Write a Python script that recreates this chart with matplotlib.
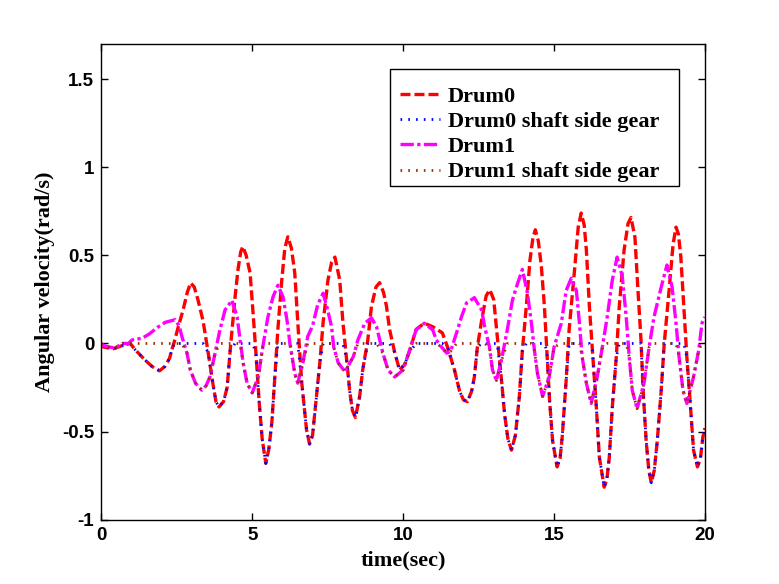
import numpy as np
import matplotlib
matplotlib.use("Agg")
import matplotlib.pyplot as plt
from matplotlib.patches import Rectangle

# values
drum0_time = [0.0, 0.07, 0.4, 0.73, 0.96, 1.12, 1.29, 1.45, 1.68, 1.93, 2.11, 2.26, 2.34, 2.42, 2.56, 2.71, 2.85, 2.96,
              3.08, 3.2, 3.37, 3.54, 3.7, 3.8, 3.9, 4.05, 4.17, 4.27, 4.43, 4.53, 4.62, 4.69,
              4.8, 4.93, 5.03, 5.13, 5.23, 5.33, 5.45,
              5.55, 5.65, 5.75, 5.85, 5.98, 6.08, 6.18,
              6.3, 6.41, 6.51, 6.64, 6.8, 6.9,
              7.0, 7.07, 7.24, 7.35, 7.51, 7.63, 7.74,
              7.9, 8.0, 8.12, 8.23, 8.32, 8.42,
              8.56, 8.66, 8.83, 8.95, 9.1, 9.22,
              9.35, 9.45, 9.55, 9.72, 9.88,
              10.05, 10.2, 10.43, 10.7, 10.98, 11.3, 11.47, 11.7, 11.87, 12.0, 12.13,
              12.27, 12.36, 12.46, 12.6, 12.75, 12.87,
              13.0, 13.12, 13.26, 13.36, 13.47, 13.59,
              13.72, 13.85, 13.95, 14.08, 14.2, 14.3, 14.38,
              14.48, 14.58, 14.68, 14.76, 14.85, 14.95, 15.1,
              15.2, 15.27, 15.4, 15.5, 15.67, 15.8, 15.9,
              16.0, 16.07, 16.17, 16.27, 16.4, 16.5, 16.66,
              16.75, 16.83, 16.93, 17.06, 17.16, 17.32, 17.45, 17.55,
              17.68, 17.78, 17.88, 17.95, 18.05, 18.14, 18.22,
              18.32, 18.42, 18.55, 18.65, 18.81, 18.94, 19.04,
              19.12, 19.2, 19.3, 19.4, 19.52, 19.62, 19.75,
              19.85, 19.93, 20.0]
drum0_vel = [0.0, -0.02, -0.03, -0.01, 0.0, -0.035, -0.065, -0.094, -0.13, -0.155, -0.13, -0.085, -0.035, 0.01, 0.1, 0.19, 0.29, 0.344,
             0.32, 0.25, 0.13, -0.05, -0.23, -0.33, -0.36, -0.33, -0.25, -0.04, 0.26, 0.42, 0.52, 0.55,
             0.5, 0.4, 0.17, -0.07, -0.33, -0.54, -0.68,
             -0.6, -0.45, -0.19, 0.08, 0.36, 0.54, 0.605,
             0.54, 0.40, 0.12, -0.22, -0.49, -0.57,
             -0.52, -0.4, -0.11, 0.12, 0.36, 0.46, 0.49,
             0.36, 0.13, -0.08, -0.27, -0.38, -0.42,
             -0.3, -0.15, 0.02, 0.21, 0.32, 0.345,
             0.29, 0.21, 0.08, -0.05, -0.15,
             -0.12, -0.05, 0.08, 0.115, 0.095, 0.06, -0.02, -0.15, -0.27, -0.32, -0.33,
             -0.27, -0.19, -0.02, 0.13, 0.27, 0.305,
             0.25, 0.04, -0.21, -0.4, -0.54, -0.605,
             -0.52, -0.3, -0.04, 0.21, 0.47, 0.6, 0.645,
             0.58, 0.435, 0.21, -0.04, -0.32, -0.55, -0.70,
             -0.65, -0.53, -0.21, 0.08, 0.40, 0.66, 0.74,
             0.67, 0.53, 0.21, -0.04, -0.36, -0.645, -0.815,
             -0.77, -0.645, -0.36, -0.08, 0.21, 0.53, 0.68, 0.715,
             0.6, 0.3, 0.02, -0.265, -0.55, -0.72, -0.79,
             -0.72, -0.55, -0.265, 0.0, 0.30, 0.56, 0.66,
             0.62, 0.49, 0.21, -0.08, -0.36, -0.605, -0.70,
             -0.65, -0.53, -0.48]
gear0_vel = [0.0, -0.02, -0.03, -0.01, 0.0, -0.035, -0.065, -0.094, -0.13, -0.155, -0.13, -0.085, -0.035, 0, 0, 0, 0, 0,
             0, 0, 0, -0.05, -0.23, -0.33, -0.36, -0.33, -0.25, -0.04, 0, 0, 0, 0,
             0, 0, 0, -0.07, -0.33, -0.54, -0.68,
             -0.6, -0.45, -0.19, 0, 0, 0, 0,
             0, 0, 0, -0.22, -0.49, -0.57,
             -0.52, -0.4, -0.11, 0, 0, 0, 0,
             0, 0, -0.08, -0.27, -0.38, -0.42,
             -0.3, -0.15, 0, 0, 0, 0,
             0, 0, 0, -0.05, -0.15,
             -0.12, -0.05, 0, 0, 0, 0, -0.02, -0.15, -0.27, -0.32, -0.33,
             -0.27, -0.19, -0.02, 0, 0, 0,
             0, 0, -0.21, -0.4, -0.54, -0.605,
             -0.52, -0.3, -0.04, 0, 0, 0, 0,
             0, 0, 0, -0.04, -0.32, -0.55, -0.70,
             -0.65, -0.53, -0.21, 0, 0, 0, 0,
             0, 0, 0, -0.04, -0.36, -0.645, -0.815,
             -0.77, -0.645, -0.36, -0.08, 0, 0, 0, 0,
             0, 0, 0, -0.265, -0.55, -0.72, -0.79,
             -0.72, -0.55, -0.265, 0.0, 0, 0, 0,
             0, 0, 0, -0.08, -0.36, -0.605, -0.70,
             -0.65, -0.53, -0.48]

drum1_time = [0.0, 0.05, 0.25, 0.46, 0.7, 0.9, 1.02, 1.36, 1.6, 1.85, 2.12, 2.45,
              2.58, 2.67, 2.84, 2.95, 3.12, 3.33,
              3.47, 3.6, 3.77, 3.93, 4.1, 4.33,
              4.5, 4.6, 4.7, 4.83, 5.0,
              5.2, 5.35, 5.52, 5.69, 5.85,
              6.02, 6.15, 6.25, 6.41, 6.51,
              6.68, 6.84, 7.0, 7.17, 7.35,
              7.5, 7.63, 7.7, 7.85, 8.07,
              8.35, 8.5, 8.73, 8.95,
              9.12, 9.33, 9.5, 9.72,
              10.0, 10.21, 10.43, 10.7,
              10.98, 11.1, 11.27, 11.45, 11.57,
              11.77, 11.93, 12.1, 12.36,
              12.6, 12.7, 12.86, 12.96, 13.09,
              13.25, 13.45, 13.62, 13.79, 13.95,
              14.12, 14.25, 14.35, 14.45, 14.62,
              14.84, 15.0, 15.24, 15.4, 15.57,
              15.74, 15.84, 15.93, 16.07, 16.23,
              16.43, 16.6, 16.76, 16.93, 17.09,
              17.26, 17.39, 17.49, 17.59, 17.75,
              17.98, 18.15, 18.31, 18.55, 18.74,
              18.91, 19.04, 19.14, 19.27, 19.4,
              19.62, 19.79, 19.9, 20.0]
drum1_vel = [0.0, -0.01, -0.02, -0.025, 0.0, 0.0, 0.02, 0.03, 0.055, 0.09, 0.12, 0.135,
             0.1, 0.04, -0.055, -0.15, -0.225, -0.265,
             -0.24, -0.19, -0.055, 0.077, 0.19, 0.245,
             0.15, 0.02, -0.11, -0.225, -0.28,
             -0.19, -0.02, 0.15, 0.265, 0.33,
             0.265, 0.135, 0.0, -0.17, -0.225,
             -0.11, 0.04, 0.1, 0.22, 0.285,
             0.19, 0.095, -0.02, -0.11, -0.16,
             -0.075, 0.02, 0.115, 0.145,
             0.095, -0.055, -0.15, -0.19,
             -0.15, -0.04, 0.077, 0.115,
             0.077, 0.02, -0.02, -0.055, -0.045,
             0.06, 0.15, 0.23, 0.26,
             0.19, 0.095, -0.02, -0.15, -0.21,
             -0.1, 0.077, 0.245, 0.34, 0.42,
             0.285, 0.115, -0.04, -0.17, -0.30,
             -0.19, -0.02, 0.115, 0.30, 0.37,
             0.30, 0.115, -0.075, -0.225, -0.34,
             -0.19, -0.02, 0.15, 0.36, 0.49,
             0.38, 0.15, -0.075, -0.265, -0.37,
             -0.225, -0.02, 0.15, 0.32, 0.445,
             0.32, 0.115, -0.075, -0.265, -0.34,
             -0.19, -0.04, 0.115, 0.15]
gear1_vel = [0.0, -0.01, -0.02, -0.025, 0.0, 0.0, 0, 0, 0, 0, 0, 0,
             0, 0, -0.055, -0.15, -0.225, -0.265,
             -0.24, -0.19, -0.055, 0, 0, 0,
             0, 0, -0.11, -0.225, -0.28,
             -0.19, -0.02, 0, 0, 0,
             0, 0, 0.0, -0.17, -0.225,
             -0.11, 0, 0, 0, 0,
             0, 0, -0.02, -0.11, -0.16,
             -0.075, 0, 0, 0,
             0, -0.055, -0.15, -0.19,
             -0.15, -0.04, 0, 0,
             0, 0, -0.02, -0.055, -0.045,
             0, 0, 0, 0,
             0, 0, -0.02, -0.15, -0.21,
             -0.1, 0, 0, 0, 0,
             0, 0, -0.04, -0.17, -0.30,
             -0.19, -0.02, 0, 0, 0,
             0, 0, -0.075, -0.225, -0.34,
             -0.19, -0.02, 0, 0, 0,
             0, 0, -0.075, -0.265, -0.37,
             -0.225, -0.02, 0, 0, 0,
             0, 0, -0.075, -0.265, -0.34,
             -0.19, -0.04, 0, 0]

labels = ['Drum0', 'Drum0 shaft side gear', 'Drum1', 'Drum1 shaft side gear']
x_ticks = [0, 5, 10, 15, 20]
y_ticks = [-1, -0.5, 0, 0.5, 1, 1.5]
y_tick_labels = ['-1', '-0.5', '0', '0.5', '1', '1.5']

serif = 'Liberation Serif'
sans = 'Liberation Sans'

fig = plt.figure(figsize=(7.79, 5.84), dpi=100)
ax = fig.add_axes([0.13, 0.11, 0.775, 0.815])

ax.plot(drum0_time, drum0_vel, color='red', lw=2.4, ls=(0, (3, 1.2)), label=labels[0])
ax.plot(drum0_time, gear0_vel, color='blue', lw=2.0, ls=(0, (0.6, 2.2)), label=labels[1])
ax.plot(drum1_time, drum1_vel, color='magenta', lw=2.4, ls=(0, (4, 1, 1, 1)), label=labels[2])
ax.plot(drum1_time, gear1_vel, color='#993300', lw=2.0, ls=(0, (0.6, 2.2)), label=labels[3])

ax.set_xlim(0, 20)
ax.set_ylim(-1, 1.7)
ax.set_xticks(x_ticks)
ax.set_yticks(y_ticks)
ax.set_yticklabels(y_tick_labels)
ax.tick_params(direction='in', length=5, width=1, top=True, right=True, labelsize=13.5, pad=5)
for lab in ax.get_xticklabels() + ax.get_yticklabels():
    lab.set_fontfamily(sans)
    lab.set_fontweight('bold')
for sp in ax.spines.values():
    sp.set_linewidth(1)

ax.set_xlabel('time(sec)', fontfamily=serif, fontweight='bold', fontsize=16, labelpad=5)
ax.set_ylabel('Angular velocity(rad/s)', fontfamily=serif, fontweight='bold', fontsize=16, labelpad=5)

# MATLAB-style legend box: wider on the right than the entries need
box = Rectangle((0.479, 0.702), 0.478, 0.245, transform=ax.transAxes,
                facecolor='white', edgecolor='black', lw=1, zorder=4)
ax.add_patch(box)
leg = ax.legend(loc='upper left', bbox_to_anchor=(0.494, 0.911), frameon=False,
                handlelength=1.8, handletextpad=0.36, labelspacing=0.21,
                borderpad=0, borderaxespad=0,
                prop={'family': serif, 'weight': 'bold', 'size': 16})
leg.set_zorder(5)

fig.savefig('out.png', dpi=100)
